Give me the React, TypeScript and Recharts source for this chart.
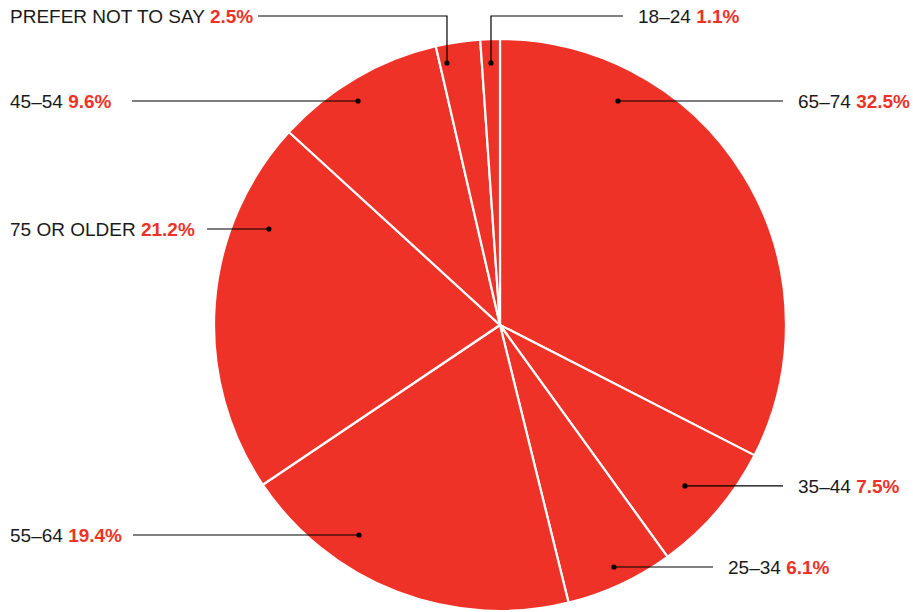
import React from 'react';
import { PieChart, Pie, Cell } from 'recharts';

// ---- data ----
const categories: string[] = ['65–74', '35–44', '25–34', '55–64', '75 OR OLDER', '45–54', 'PREFER NOT TO SAY', '18–24'];
const shares: number[] = [32.5, 7.5, 6.1, 19.4, 21.2, 9.6, 2.5, 1.1];

// ---- annotation layout (dot in polar coords relative to pie centre, leader line, text) ----
type Placement = { dotAngle: number; dotR: number; elbowY?: number; lineX: number; textX: number };
const labelLayout: Placement[] = [
  { dotAngle: 62.22, dotR: 253.2, lineX: 783, textX: 798 },
  { dotAngle: -41.03, dotR: 245.2, lineX: 783, textX: 798 },
  { dotAngle: -64.78, dotR: 267.5, lineX: 713, textX: 728 },
  { dotAngle: -123.87, dotR: 252.9, lineX: 133, textX: 10 },
  { dotAngle: 157.44, dotR: 250.2, lineX: 207, textX: 10 },
  { dotAngle: 122.37, dotR: 265.2, lineX: 132, textX: 10 },
  { dotAngle: 101.44, dotR: 267.3, elbowY: 16, lineX: 258, textX: 10 },
  { dotAngle: 91.97, dotR: 262.2, elbowY: 16, lineX: 623, textX: 638 },
];

const RED = '#EE3227';
const INK = '#1a1a1a';
const FONT = '"Liberation Sans", Arial, Helvetica, sans-serif';
const FONT_SIZE = 19;
const CX = 500;
const CY = 325;
const RADIUS = 286;

const data = categories.map((name, i) => ({ name, value: shares[i] }));

const RADIAN = Math.PI / 180;

const renderLabel = (props: any) => {
  const { index } = props;
  const cx = typeof props.cx === 'number' ? props.cx : CX;
  const cy = typeof props.cy === 'number' ? props.cy : CY;
  const p = labelLayout[index];
  if (!p) return null;
  const dx = cx + Math.cos(p.dotAngle * RADIAN) * p.dotR;
  const dy = cy - Math.sin(p.dotAngle * RADIAN) * p.dotR;
  const rowY = p.elbowY !== undefined ? p.elbowY : dy;
  const path =
    p.elbowY !== undefined
      ? `M${dx},${dy} L${dx},${p.elbowY} L${p.lineX},${p.elbowY}`
      : `M${dx},${dy} L${p.lineX},${dy}`;
  return (
    <g key={`lbl-${index}`}>
      <path d={path} stroke="#000" strokeWidth={1.2} fill="none" />
      <circle cx={dx} cy={dy} r={2.6} fill="#000" />
      <text
        x={p.textX}
        y={rowY + 6.8}
        textAnchor="start"
        fontFamily={FONT}
        fontSize={FONT_SIZE}
        fill={INK}
      >
        <tspan>{categories[index]} </tspan>
        <tspan fill={RED} fontWeight="bold">{shares[index].toFixed(1)}%</tspan>
      </text>
    </g>
  );
};

export default function App() {
  return (
    <div style={{ position: 'absolute', left: 0, top: 0, width: 913, height: 612, background: '#fff' }}>
      <PieChart width={913} height={612} margin={{ top: 0, right: 0, bottom: 0, left: 0 }}>
        <Pie
          data={data}
          dataKey="value"
          nameKey="name"
          cx={CX}
          cy={CY}
          outerRadius={RADIUS}
          startAngle={90}
          endAngle={-270}
          stroke="#fff"
          strokeWidth={2.2}
          isAnimationActive={false}
          labelLine={false}
          label={renderLabel}
        >
          {data.map((d) => (
            <Cell key={d.name} fill={RED} />
          ))}
        </Pie>
      </PieChart>
    </div>
  );
}
